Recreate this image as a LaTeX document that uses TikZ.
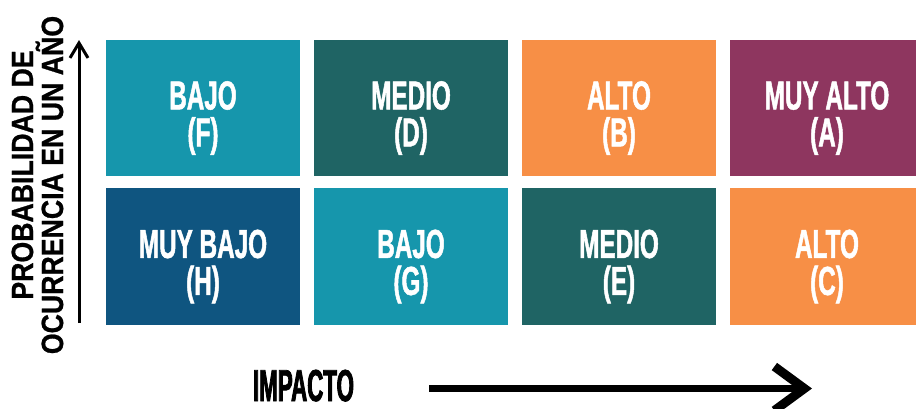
\documentclass[tikz,border=0pt]{standalone}
\usepackage{fontspec}
\usetikzlibrary{arrows.meta}
\newfontfamily\boxfont{Liberation Sans Bold}[FakeStretch=0.6, FakeBold=1.2]
\newfontfamily\impfont{Liberation Sans Bold}[FakeStretch=0.5, FakeBold=1.8]
\newfontfamily\vfont{Liberation Sans Bold}[FakeStretch=0.87, FakeBold=0.8]
\definecolor{cteal}{HTML}{1696AC}
\definecolor{cdark}{HTML}{1F6464}
\definecolor{corange}{HTML}{F78F46}
\definecolor{cplum}{HTML}{8E365F}
\definecolor{cblue}{HTML}{0F5580}
\tikzset{
  cell/.style={draw=none, minimum width=194pt, minimum height=136pt, inner sep=0pt},
  lbl/.style={text=white, align=center, inner sep=0pt, font=\boxfont\fontsize{40.5}{37}\selectfont},
  axlbl/.style={text=black, inner sep=0pt, anchor=base},
}
\begin{document}
\begin{tikzpicture}[x=1pt, y=-1pt]
\clip (0,0) rectangle (916,408);
\fill[white] (0,0) rectangle (916,408);
% row 1
\node[cell, fill=cteal]   (F) at (203,108) {};
\node[cell, fill=cdark]   (D) at (411,108) {};
\node[cell, fill=corange] (B) at (619,108) {};
\node[cell, fill=cplum]   (A) at (827,108) {};
% row 2
\node[cell, fill=cblue, minimum height=137pt]   (H) at (203,256.5) {};
\node[cell, fill=cteal, minimum height=137pt]   (G) at (411,256.5) {};
\node[cell, fill=cdark, minimum height=137pt]   (E) at (619,256.5) {};
\node[cell, fill=corange, minimum height=137pt] (C) at (827,256.5) {};
% labels
\node[lbl] (tF) at (203,118) {BAJO\\(F)};
\node[lbl] (tD) at (411,118) {MEDIO\\(D)};
\node[lbl] (tB) at (619,118) {ALTO\\(B)};
\node[lbl] (tA) at (827,118) {MUY ALTO\\(A)};
\node[lbl] (tH) at (203,266.5) {MUY BAJO\\(H)};
\node[lbl] (tG) at (411,266.5) {BAJO\\(G)};
\node[lbl] (tE) at (619,266.5) {MEDIO\\(E)};
\node[lbl] (tC) at (827,266.5) {ALTO\\(C)};
% axes
\coordinate (vb) at (79,323);
\coordinate (vt) at (79,40);
\draw[line width=3pt, -{Straight Barb[length=15pt,width=18pt,line width=3pt]}] (vb) -- (vt);
\coordinate (hl) at (429,388.5);
\coordinate (hr) at (812,388.5);
\draw[line width=7pt, -{Straight Barb[length=30pt,width=44pt,line width=9pt]}] (hl) -- (hr);
\node[axlbl, font=\impfont\fontsize{44.7}{44.7}\selectfont] (imp) at (303.5,401) {IMPACTO};
\node[axlbl, rotate=90, font=\vfont\fontsize{30.7}{30.7}\selectfont] (prob) at (33,175) {PROBABILIDAD DE};
\node[axlbl, rotate=90, font=\vfont\fontsize{30.7}{30.7}\selectfont] (ocur) at (63,185) {OCURRENCIA EN UN AÑO};
\end{tikzpicture}
\end{document}
